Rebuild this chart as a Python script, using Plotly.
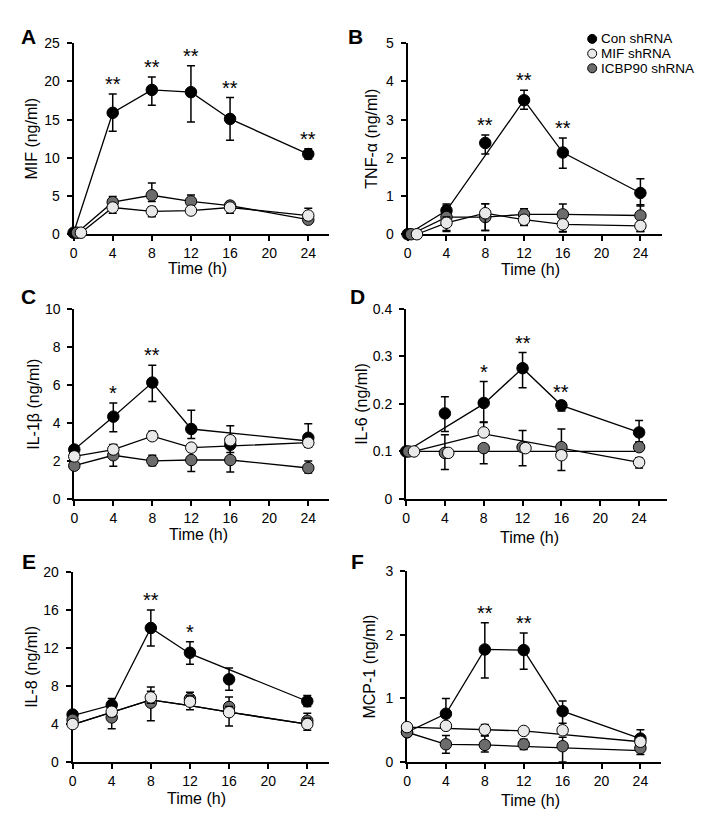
import plotly.graph_objects as go

FONT = "Liberation Sans, Arial, Helvetica, sans-serif"
W, H = 712, 827

T = [0, 4, 8, 12, 16, 24]
X_TICKS = [0, 4, 8, 12, 16, 20, 24]
SERIES = ["Con shRNA", "MIF shRNA", "ICBP90 shRNA"]

# ---------------- Panel A : MIF ----------------
A_t_con = [0, 4, 8, 12, 16, 24]
A_t_mif = [0.75, 4, 8, 12, 16, 24]
A_t_icbp = [0.35, 4, 8, 12, 16, 24]
A_con = [0.2, 15.9, 18.9, 18.6, 15.1, 10.5]
A_con_ep = [0, 2.45, 1.7, 3.45, 2.8, 0.7]
A_con_em = [0, 2.4, 2.0, 3.9, 2.8, 0.65]
A_mif = [0.2, 3.5, 3.0, 3.1, 3.5, 2.45]
A_mif_ep = [0, 0.5, 0.6, 0.3, 0.4, 0.95]
A_mif_em = [0, 0.75, 0.7, 0.3, 0.75, 0.5]
A_icbp = [0.2, 4.2, 5.1, 4.3, 3.75, 1.9]
A_icbp_ep = [0, 0.75, 1.6, 0.85, 0.5, 0.4]
A_icbp_em = [0, 0.5, 0.8, 0.5, 0.4, 0.3]
A_stars_t = [4, 8, 12, 16, 24]
A_stars = ["**", "**", "**", "**", "**"]

# ---------------- Panel B : TNF-alpha ----------------
B_t_con = [0, 4, 8, 12, 16, 24]
B_t_mif = [0.95, 4, 8, 12, 16, 24]
B_t_icbp = [0.35, 4, 8, 12, 16, 24]
B_con = [0, 0.62, 2.39, 3.51, 2.14, 1.08]
B_con_ep = [0, 0.17, 0.21, 0.26, 0.38, 0.37]
B_con_em = [0, 0.17, 0.29, 0.24, 0.41, 0.34]
B_mif = [0, 0.3, 0.55, 0.38, 0.26, 0.22]
B_mif_ep = [0, 0.15, 0.25, 0.1, 0.1, 0.1]
B_mif_em = [0, 0.2, 0.45, 0.15, 0.2, 0.15]
B_icbp = [0, 0.45, 0.45, 0.52, 0.52, 0.49]
B_icbp_ep = [0, 0.3, 0.35, 0.15, 0.27, 0.28]
B_icbp_em = [0, 0.38, 0.35, 0.28, 0.45, 0.42]
B_con_line_t = [0, 4, 12, 16, 24]
B_con_line = [0, 0.62, 3.51, 2.14, 1.08]
B_stars_t = [8, 12, 16]
B_stars = ["**", "**", "**"]

# ---------------- Panel C : IL-1beta ----------------
C_t = [0, 4, 8, 12, 16, 24]
C_con = [2.6, 4.33, 6.12, 3.68, 2.85, 3.22]
C_con_ep = [0, 0.72, 0.91, 0.98, 1.0, 0.73]
C_con_em = [0, 0.79, 1.0, 0.5, 0.4, 0.5]
C_mif = [2.24, 2.6, 3.3, 2.7, 3.09, 2.96]
C_mif_ep = [0, 0.25, 0.26, 0.15, 0.15, 0.15]
C_mif_em = [0, 0.2, 0.21, 0.15, 0.15, 0.15]
C_icbp = [1.75, 2.3, 2.01, 2.05, 2.05, 1.63]
C_icbp_ep = [0, 0.57, 0.29, 0.6, 0.75, 0.37]
C_icbp_em = [0, 0.58, 0.26, 0.61, 0.63, 0.26]
C_con_line_t = [0, 4, 8, 12, 24]
C_con_line = [2.6, 4.33, 6.12, 3.68, 3.05]
C_mif_line_t = [0, 4, 8, 12, 24]
C_mif_line = [2.24, 2.6, 3.3, 2.7, 2.96]
C_stars_t = [4, 8]
C_stars = ["*", "**"]

# ---------------- Panel D : IL-6 ----------------
D_t_con = [0, 4, 8, 12, 16, 24]
D_t_mif = [0.82, 4.35, 8, 12.3, 16, 24]
D_t_icbp = [0.25, 4, 8, 12, 16, 24]
D_con = [0.1, 0.18, 0.202, 0.275, 0.197, 0.14]
D_con_ep = [0, 0.035, 0.045, 0.033, 0.008, 0.025]
D_con_em = [0, 0.038, 0.041, 0.041, 0.012, 0.02]
D_mif = [0.1, 0.097, 0.14, 0.107, 0.092, 0.077]
D_mif_ep = [0, 0.005, 0.022, 0.005, 0.005, 0.01]
D_mif_em = [0, 0.005, 0.005, 0.005, 0.032, 0.012]
D_icbp = [0.1, 0.097, 0.107, 0.109, 0.109, 0.109]
D_icbp_ep = [0, 0.038, 0.005, 0.035, 0.038, 0.01]
D_icbp_em = [0, 0.035, 0.033, 0.039, 0.005, 0.005]
D_con_line_t = [0, 8, 12, 16, 24]
D_con_line = [0.1, 0.2, 0.275, 0.197, 0.14]
D_mif_line_t = [0.82, 8, 24]
D_mif_line = [0.1, 0.137, 0.077]
D_icbp_line_t = [0, 24]
D_icbp_line = [0.1, 0.1]
D_stars_t = [8, 12, 16]
D_stars = ["*", "**", "**"]

# ---------------- Panel E : IL-8 ----------------
E_t = [0, 4, 8, 12, 16, 24]
E_con = [5.0, 6.0, 14.1, 11.5, 8.7, 6.4]
E_con_ep = [0, 0.7, 1.9, 1.15, 1.2, 0.6]
E_con_em = [0, 0.5, 1.9, 1.2, 1.15, 0.55]
E_mif = [4.0, 5.3, 6.8, 6.35, 5.25, 4.0]
E_mif_ep = [0, 0.4, 1.1, 0.6, 0.6, 0.6]
E_mif_em = [0, 0.5, 0.6, 0.85, 1.45, 0.65]
E_icbp = [4.45, 4.7, 6.25, 6.65, 5.8, 4.35]
E_icbp_ep = [0, 0.6, 1.2, 0.7, 1.05, 0.8]
E_icbp_em = [0, 1.2, 1.9, 0.5, 0.6, 0.5]
E_con_line_t = [0, 4, 8, 12, 24]
E_con_line = [4.9, 6.0, 14.1, 11.4, 6.4]
E_mif_line = [3.95, 5.25, 6.55, 5.95, 5.25, 4.0]
E_stars_t = [8, 12]
E_stars = ["**", "*"]

# ---------------- Panel F : MCP-1 ----------------
F_t = [0, 4, 8, 12, 16, 24]
F_con = [0.47, 0.76, 1.77, 1.76, 0.8, 0.37]
F_con_ep = [0, 0.24, 0.42, 0.27, 0.16, 0.14]
F_con_em = [0, 0.2, 0.45, 0.3, 0.19, 0.1]
F_mif = [0.55, 0.57, 0.51, 0.49, 0.5, 0.32]
F_mif_ep = [0, 0.05, 0.08, 0.03, 0.05, 0.05]
F_mif_em = [0, 0.05, 0.09, 0.03, 0.05, 0.05]
F_icbp = [0.47, 0.28, 0.27, 0.28, 0.25, 0.22]
F_icbp_ep = [0, 0.14, 0.14, 0.08, 0.14, 0.07]
F_icbp_em = [0, 0.14, 0.11, 0.08, 0.25, 0.1]
F_mif_line_t = [0, 8, 12, 24]
F_mif_line = [0.55, 0.51, 0.49, 0.32]
F_icbp_line = [0.47, 0.28, 0.27, 0.25, 0.22, 0.18]
F_stars_t = [8, 12]
F_stars = ["**", "**"]

# styles
FILL = {"Con shRNA": "#000000", "MIF shRNA": "#e9e9e9", "ICBP90 shRNA": "#6c6c6c"}

panels = [
    dict(letter="A", title="MIF (ng/ml)", ymax=25, yticks=[0, 5, 10, 15, 20, 25],
         xpx=(70, 306, 327), ypx=(230.7, 36), ytx=28, xty=266,
         con=(A_t_con, A_con, A_con_ep, A_con_em, A_t_con, A_con),
         mif=(A_t_mif, A_mif, A_mif_ep, A_mif_em, A_t_mif, A_mif),
         icbp=(A_t_icbp, A_icbp, A_icbp_ep, A_icbp_em, A_t_icbp, A_icbp),
         stars=(A_stars_t, A_stars), lpos=(25, 29)),
    dict(letter="B", title="TNF-α (ng/ml)", ymax=5, yticks=[0, 1, 2, 3, 4, 5],
         xpx=(406, 640, 662), ypx=(230.7, 36), ytx=370, xty=267,
         con=(B_t_con, B_con, B_con_ep, B_con_em, B_con_line_t, B_con_line),
         mif=(B_t_mif, B_mif, B_mif_ep, B_mif_em, B_t_mif, B_mif),
         icbp=(B_t_icbp, B_icbp, B_icbp_ep, B_icbp_em, B_t_icbp, B_icbp),
         stars=(B_stars_t, B_stars), lpos=(353, 29)),
    dict(letter="C", title="IL-1β (ng/ml)", ymax=10, yticks=[0, 2, 4, 6, 8, 10],
         xpx=(70.7, 306, 326.7), ypx=(500.7, 306.7), ytx=30, xty=537,
         con=(C_t, C_con, C_con_ep, C_con_em, C_con_line_t, C_con_line),
         mif=(C_t, C_mif, C_mif_ep, C_mif_em, C_mif_line_t, C_mif_line),
         icbp=(C_t, C_icbp, C_icbp_ep, C_icbp_em, C_t, C_icbp),
         stars=(C_stars_t, C_stars), lpos=(25, 294)),
    dict(letter="D", title="IL-6 (ng/ml)", ymax=0.4, yticks=[0, 0.1, 0.2, 0.3, 0.4],
         xpx=(404.3, 638.7, 666.7), ypx=(500.7, 306.7), ytx=360, xty=540,
         con=(D_t_con, D_con, D_con_ep, D_con_em, D_con_line_t, D_con_line),
         mif=(D_t_mif, D_mif, D_mif_ep, D_mif_em, D_mif_line_t, D_mif_line),
         icbp=(D_t_icbp, D_icbp, D_icbp_ep, D_icbp_em, D_icbp_line_t, D_icbp_line),
         stars=(D_stars_t, D_stars), lpos=(355, 294)),
    dict(letter="E", title="IL-8 (ng/ml)", ymax=20, yticks=[0, 4, 8, 12, 16, 20],
         xpx=(69, 305, 326.7), ypx=(769, 575), ytx=28, xty=806,
         con=(E_t, E_con, E_con_ep, E_con_em, E_con_line_t, E_con_line),
         mif=(E_t, E_mif, E_mif_ep, E_mif_em, E_t, E_mif_line),
         icbp=(E_t, E_icbp, E_icbp_ep, E_icbp_em, E_t, E_mif_line),
         stars=(E_stars_t, E_stars), lpos=(25, 564)),
    dict(letter="F", title="MCP-1 (ng/ml)", ymax=3, yticks=[0, 1, 2, 3],
         xpx=(405.3, 640, 661), ypx=(769, 574.3), ytx=368, xty=808,
         con=(F_t, F_con, F_con_ep, F_con_em, F_t, F_con),
         mif=(F_t, F_mif, F_mif_ep, F_mif_em, F_mif_line_t, F_mif_line),
         icbp=(F_t, F_icbp, F_icbp_ep, F_icbp_em, F_t, F_icbp_line),
         stars=(F_stars_t, F_stars), lpos=(355, 564)),
]

fig = go.Figure()
annotations = []
layout_axes = {}
TITLE_FONT = dict(family=FONT, size=16, color="black")

for i, p in enumerate(panels, start=1):
    xa = "x" if i == 1 else f"x{i}"
    ya = "y" if i == 1 else f"y{i}"
    x0, x24, xend = p["xpx"]
    y0, ytop = p["ypx"]
    xmax = (xend - x0) / (x24 - x0) * 24

    axis_common = dict(showline=True, linewidth=2, linecolor="black", ticks="outside",
                       ticklen=5, tickwidth=2, tickcolor="black", showgrid=False,
                       zeroline=False, layer="below traces",
                       tickfont=dict(family=FONT, size=14, color="black"))
    layout_axes["xaxis" if i == 1 else f"xaxis{i}"] = dict(
        axis_common, domain=[x0 / W, xend / W], range=[0, xmax], tickvals=X_TICKS,
        anchor=ya, ticklabelstandoff=0)
    layout_axes["yaxis" if i == 1 else f"yaxis{i}"] = dict(
        axis_common, domain=[1 - y0 / H, 1 - ytop / H], range=[0, p["ymax"]],
        tickvals=p["yticks"], anchor=xa, ticklabelstandoff=4)

    # axis titles as annotations (exact placement)
    xt = x0 + 12.7 * (x24 - x0) / 24
    annotations.append(dict(x=xt / W, y=1 - p["xty"] / H, xref="paper",
                            yref="paper", text="Time (h)", showarrow=False, borderpad=0,
                            xanchor="center", yanchor="middle", font=TITLE_FONT))
    annotations.append(dict(x=p["ytx"] / W, y=1 - (y0 + ytop) / 2 / H, xref="paper",
                            yref="paper", text=p["title"], showarrow=False, textangle=-90,
                            borderpad=0, xanchor="center", yanchor="middle",
                            font=TITLE_FONT))

    groups = [("Con shRNA", p["con"]), ("ICBP90 shRNA", p["icbp"]), ("MIF shRNA", p["mif"])]
    # connecting lines first
    for name, (t, y, ep, em, lt, ly) in groups:
        fig.add_trace(go.Scatter(x=lt, y=ly, mode="lines", xaxis=xa, yaxis=ya,
                                 line=dict(color="black", width=1.3),
                                 showlegend=False, hoverinfo="skip"))
    for name, (t, y, ep, em, lt, ly) in groups:
        fig.add_trace(go.Scatter(
            x=t, y=y, mode="markers", name=name, xaxis=xa, yaxis=ya, showlegend=False,
            cliponaxis=False,
            marker=dict(size=11.5, color=FILL[name], line=dict(color="black", width=1)),
            error_y=dict(type="data", array=ep, arrayminus=em, symmetric=False,
                         color="black", thickness=1.5, width=4)))
    # significance stars above Con error bars
    st_t, st_txt = p["stars"]
    ct, cy, cep = p["con"][0], p["con"][1], p["con"][2]
    for tt, txt in zip(st_t, st_txt):
        k = ct.index(tt)
        annotations.append(dict(x=tt, y=cy[k] + cep[k], xref=xa, yref=ya, text=txt,
                                showarrow=False, yanchor="bottom", yshift=-3,
                                font=dict(family=FONT, size=20, color="black")))
    # panel letter
    lx, ly_ = p["lpos"]
    annotations.append(dict(x=lx / W, y=1 - ly_ / H, xref="paper", yref="paper",
                            text=f"<b>{p['letter']}</b>", showarrow=False,
                            xanchor="center", yanchor="middle",
                            font=dict(family=FONT, size=21, color="black")))

# legend drawn inside panel B
shapes = []
leg_y = [31.5, 46.5, 61.5]
for name, yy in zip(SERIES, leg_y):
    shapes.append(dict(type="circle", xref="paper", yref="paper",
                       xsizemode="pixel", ysizemode="pixel",
                       xanchor=591.5 / W, yanchor=1 - yy / H,
                       x0=-4.5, x1=4.5, y0=-4.5, y1=4.5,
                       fillcolor=FILL[name], line=dict(color="black", width=1)))
    annotations.append(dict(x=599 / W, y=1 - yy / H, xref="paper", yref="paper",
                            text=name, showarrow=False, xanchor="left", yanchor="middle",
                            borderpad=0,
                            font=dict(family=FONT, size=13.5, color="black")))

fig.update_layout(
    width=W, height=H, margin=dict(l=0, r=0, t=0, b=0),
    paper_bgcolor="white", plot_bgcolor="white", showlegend=False,
    font=dict(family=FONT, color="black"),
    annotations=annotations, shapes=shapes, **layout_axes)

fig.write_html("out.html", config={"displayModeBar": False},
               post_script="document.body.style.margin='0';document.body.style.overflow='hidden';")
